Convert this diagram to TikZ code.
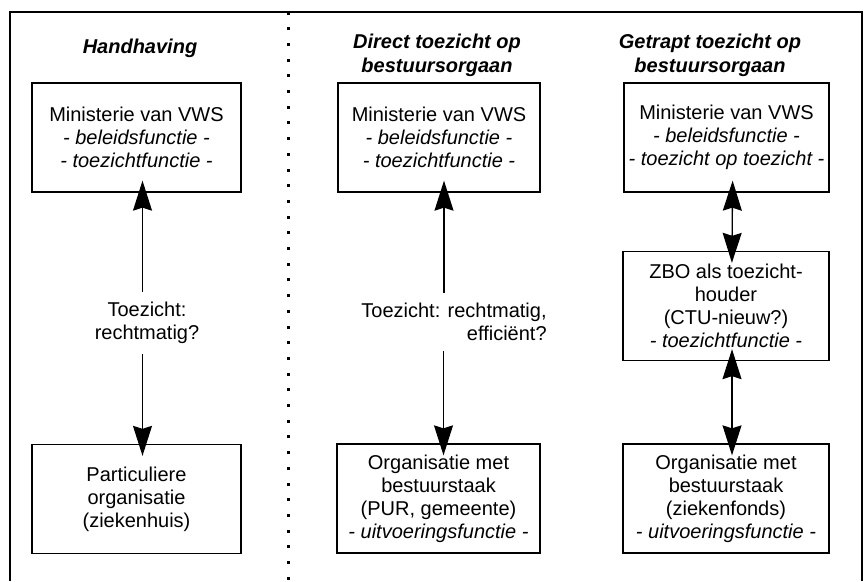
\documentclass[tikz,border=0pt]{standalone}
\usepackage{fontspec}
\setmainfont{Liberation Sans}
\usetikzlibrary{positioning, arrows.meta, calc}

\tikzset{
    orgbox/.style={draw, line width=1.3pt, align=center, inner sep=0pt,
        minimum height=109pt, font=\fontsize{20}{23}\selectfont},
    kop/.style={align=center, font=\fontsize{20}{24}\selectfont\bfseries\itshape},
    vraag/.style={inner xsep=2pt, inner ysep=10pt, font=\fontsize{20}{23}\selectfont},
    pijl/.style={line width=1.3pt, -{Stealth[length=30pt, width=19pt, inset=3pt]},
        shorten >=-12pt},
    dubbelpijl/.style={line width=1.3pt,
        {Stealth[length=30pt, width=19pt, inset=3pt]}-{Stealth[length=30pt, width=19pt, inset=3pt]},
        shorten >=-12pt, shorten <=-12pt}
}

\begin{document}
\begin{tikzpicture}[x=1pt, y=-1pt]
    \useasboundingbox (0,0) rectangle (866,581);

    % frame
    \draw[line width=1.6pt] (10,581) -- (10,12) -- (862,12) -- (862,581);

    % dotted separator
    \foreach \i in {0,...,36}
    {
        \fill (286.5, 11.5+\i*15.7) rectangle ++(3,3);
    }

    % headings
    \node[kop] (kop1) at (140,48) {Handhaving};
    \node[kop] (kop2) at (437,55) {Direct toezicht op\\bestuursorgaan};
    \node[kop] (kop3) at (710,55) {Getrapt toezicht op\\bestuursorgaan};

    % boxes
    \foreach \name/\x/\y/\w/\txt in {
        min1/136.5/137.5/209/{Ministerie van VWS\\\textit{- beleidsfunctie -}\\\textit{- toezichtfunctie -}},
        org1/136.5/499/209/{Particuliere\\organisatie\\(ziekenhuis)},
        min2/439/137.5/202/{Ministerie van VWS\\\textit{- beleidsfunctie -}\\\textit{- toezichtfunctie -}},
        org2/438.5/498.5/203/{Organisatie met\\bestuurstaak\\(PUR, gemeente)\\\textit{- uitvoeringsfunctie -}},
        min3/726.5/137.5/205/{Ministerie van VWS\\\textit{- beleidsfunctie -}\\\textit{- toezicht op toezicht -}},
        zbo3/726/306/206/{ZBO als toezicht-\\houder\\(CTU-nieuw?)\\\textit{- toezichtfunctie -}},
        org3/726/498.5/206/{Organisatie met\\bestuurstaak\\(ziekenfonds)\\\textit{- uitvoeringsfunctie -}}}{

        \node[orgbox, minimum width=\w pt] (\name) at (\x,\y) {\txt};
    }

    % labels on the arrows
    \node[vraag, align=center] (vraag1) at (147,323) {Toezicht:\\rechtmatig?};
    \node[vraag, align=right] (vraag2) at (454,322) {Toezicht: rechtmatig,\\efficiënt?};

    \draw[pijl] ($(vraag1.north -| min1.south)+(6,0)$) -- ($(min1.south)+(6,0)$);
    \draw[pijl] ($(vraag1.south -| org1.north)+(6,0)$) -- ($(org1.north)+(6,0)$);
    \draw[pijl] ($(vraag2.north -| min2.south)+(5,0)$) -- ($(min2.south)+(5,0)$);
    \draw[pijl] ($(vraag2.south -| org2.north)+(5,0)$) -- ($(org2.north)+(5,0)$);
    \draw[dubbelpijl] ($(min3.south)+(6,0)$) -- ($(zbo3.north)+(6,0)$);
    \draw[dubbelpijl] ($(zbo3.south)+(6,0)$) -- ($(org3.north)+(6,0)$);
\end{tikzpicture}
\end{document}
